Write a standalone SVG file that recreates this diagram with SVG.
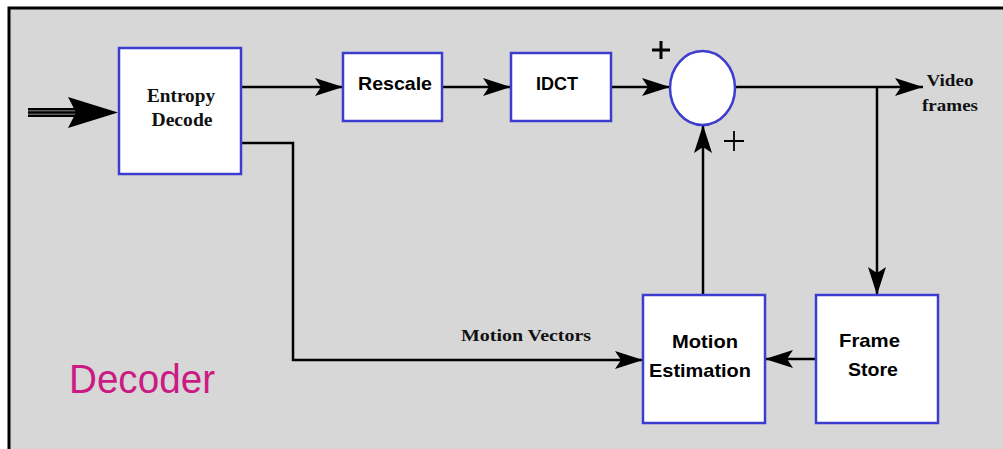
<svg xmlns="http://www.w3.org/2000/svg" width="1003" height="449" viewBox="0 0 1003 449">
  <defs>
    <marker id="arr" markerUnits="userSpaceOnUse" markerWidth="30" markerHeight="18" refX="28" refY="9" orient="auto">
      <path d="M0,0 L28,9 L0,18 L6,9 Z" fill="#000"/>
    </marker>
    <style>
      .box { fill: #ffffff; stroke: #3c3cd0; stroke-width: 2.5; }
      .wire { fill: none; stroke: #000; stroke-width: 2.5; }
      .serif { font-family: "Liberation Serif", "Times New Roman", serif; font-weight: bold; fill: #111; }
      .sans { font-family: "Liberation Sans", Arial, sans-serif; font-weight: bold; fill: #000; }
      .plus { stroke: #000; fill: none; }
    </style>
  </defs>
  <rect x="0" y="0" width="1003" height="449" fill="#ffffff"/>
  <rect x="9" y="8" width="1000" height="450" fill="#d7d7d7" stroke="#000" stroke-width="3"/>

  <g id="connectors">
    <rect x="28" y="108" width="48" height="9" fill="#000"/>
    <line x1="28" y1="110.8" x2="76" y2="110.8" stroke="#888" stroke-width="1"/>
    <line x1="28" y1="114.2" x2="76" y2="114.2" stroke="#888" stroke-width="1"/>
    <path d="M118,112.5 L68,97 L76,112.5 L68,128 Z" fill="#000"/>
    <line class="wire" x1="241" y1="87" x2="343" y2="87" marker-end="url(#arr)"/>
    <line class="wire" x1="442" y1="87" x2="511" y2="87" marker-end="url(#arr)"/>
    <line class="wire" x1="611" y1="87" x2="670" y2="87" marker-end="url(#arr)"/>
    <line class="wire" x1="735" y1="87" x2="923" y2="87" marker-end="url(#arr)"/>
    <line class="wire" x1="877" y1="87" x2="877" y2="295" marker-end="url(#arr)"/>
    <polyline class="wire" points="241,143 293,143 293,360 643,360" marker-end="url(#arr)"/>
    <line class="wire" x1="816" y1="359" x2="765" y2="359" marker-end="url(#arr)"/>
    <line class="wire" x1="703" y1="295" x2="703" y2="125" marker-end="url(#arr)"/>
  </g>

  <g id="entropy">
    <rect class="box" x="119" y="48" width="122" height="126"/>
    <text class="serif" x="181" y="102" font-size="18" text-anchor="middle" textLength="68" lengthAdjust="spacingAndGlyphs">Entropy</text>
    <text class="serif" x="182" y="126" font-size="18" text-anchor="middle" textLength="61" lengthAdjust="spacingAndGlyphs">Decode</text>
  </g>
  <g id="rescale">
    <rect class="box" x="343" y="53" width="99" height="68"/>
    <text class="sans" x="395" y="90" font-size="19" text-anchor="middle" textLength="74" lengthAdjust="spacingAndGlyphs">Rescale</text>
  </g>
  <g id="idct">
    <rect class="box" x="511" y="53" width="100" height="68"/>
    <text class="sans" x="557" y="90" font-size="19" font-weight="normal" text-anchor="middle" textLength="42" lengthAdjust="spacingAndGlyphs">IDCT</text>
  </g>
  <g id="sum">
    <ellipse class="box" cx="702.5" cy="88" rx="32.5" ry="37"/>
    <path class="plus" stroke-width="3" d="M652,50 H670 M661,41 V59"/>
    <path class="plus" stroke-width="1.8" d="M724,141 H744 M734,131 V151"/>
  </g>
  <g id="video">
    <text class="serif" x="950" y="86" font-size="17" text-anchor="middle" textLength="47" lengthAdjust="spacingAndGlyphs">Video</text>
    <text class="serif" x="950" y="111" font-size="17" text-anchor="middle" textLength="56" lengthAdjust="spacingAndGlyphs">frames</text>
  </g>
  <g id="motion">
    <rect class="box" x="643" y="295" width="122" height="128"/>
    <text class="sans" x="705" y="348" font-size="19" text-anchor="middle" textLength="66" lengthAdjust="spacingAndGlyphs">Motion</text>
    <text class="sans" x="700" y="377" font-size="19" text-anchor="middle" textLength="102" lengthAdjust="spacingAndGlyphs">Estimation</text>
  </g>
  <g id="framestore">
    <rect class="box" x="816" y="295" width="122" height="128"/>
    <text class="sans" x="869.5" y="347" font-size="19" text-anchor="middle" textLength="61" lengthAdjust="spacingAndGlyphs">Frame</text>
    <text class="sans" x="873" y="376" font-size="19" text-anchor="middle" textLength="50" lengthAdjust="spacingAndGlyphs">Store</text>
  </g>
  <g id="labels">
    <text class="serif" x="526" y="341" font-size="16" text-anchor="middle" textLength="130" lengthAdjust="spacingAndGlyphs" fill="#222">Motion Vectors</text>
    <text x="69" y="393" font-family="Liberation Sans, Arial, sans-serif" font-size="40" fill="#cc1a85" textLength="146" lengthAdjust="spacingAndGlyphs">Decoder</text>
  </g>
</svg>
